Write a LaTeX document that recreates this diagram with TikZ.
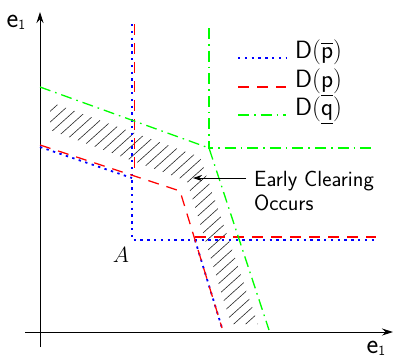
\documentclass[tikz,border=0pt]{standalone}
\usepackage{fix-cm}
\usepackage{amsmath}
\usepackage{fontspec}
\usepackage{tikz}
\usetikzlibrary{arrows.meta}
\tikzset{
  axis/.style={line width=0.9pt,-{Stealth[length=11pt,width=7pt]}},
  dpbar/.style={blue,line width=1.8pt,dash pattern=on 2.4pt off 4.4pt},
  dplow/.style={red,line width=1.25pt,dash pattern=on 11pt off 8pt},
  dqlow/.style={green,line width=1.3pt,dash pattern=on 11pt off 5pt on 1.6pt off 5pt},
  hatch/.style={black!85,line width=0.6pt},
  key/.style={font=\sffamily\fontsize{25}{27}\selectfont,inner sep=0pt},
  note/.style={font=\sffamily\fontsize{22}{24}\selectfont,inner sep=0pt,align=left},
  axlbl/.style={font=\sffamily,inner sep=0pt}}
\newcommand{\elab}{{\fontsize{28}{30}\selectfont e}\raisebox{-2pt}{\fontsize{14}{14}\selectfont 1}}
\newcommand{\dkey}[4]{%
  \coordinate (#1l) at (238,#3);
  \node[key,anchor=base west] (#1) at (295,#3) {#4};
  \draw[#2] (#1l) -- ([xshift=-9pt]#1.west |- #1l);}

\begin{document}
\begin{tikzpicture}[x=1pt,y=-1pt]
  \useasboundingbox (0,0) rectangle (396,360);
  \coordinate (yb) at (40,347); \coordinate (yt) at (40,12);
  \coordinate (xl) at (25,332); \coordinate (xr) at (393,332);
  \draw[axis] (yb) -- (yt);
  \draw[axis] (xl) -- (xr);
  \node[axlbl] (ey) at (16,22) {\elab};
  \node[axlbl] (ex) at (376,348) {\elab};
  % hatched strip
  \begin{scope}
    \clip (50,102) -- (200,157) -- (258,324) -- (231,324) -- (187,181) -- (50,130) -- cycle;
    \foreach \c in {-240,-228,...,270}
      \draw[hatch] (\c,340) -- ++(300,-270);
  \end{scope}
  % D(pbar)
  \coordinate (Pa) at (40,147); \coordinate (Pb) at (132,178);
  \coordinate (Pt) at (132,24); \coordinate (Pc) at (132,240); \coordinate (Pr) at (376,240);
  \coordinate (Pd) at (195,240); \coordinate (Pe) at (222,328);
  \draw[dpbar] (Pa) -- (Pb);
  \draw[dpbar] (Pt) -- (Pc) -- (Pr);
  \draw[dpbar] (Pd) -- (Pe);
  % D(p)
  \coordinate (pt) at (134.5,24); \coordinate (pc) at (134.5,176);
  \coordinate (pa) at (40,145); \coordinate (pk) at (180,191); \coordinate (pe) at (222,328);
  \coordinate (pd) at (195,237); \coordinate (pr) at (376,237);
  \draw[dplow] (pt) -- (pc);
  \draw[dplow] (pa) -- (pk) -- (pe);
  \draw[dplow] (pd) -- (pr);
  % D(q)
  \coordinate (qt) at (209,28); \coordinate (qk) at (209,148); \coordinate (qr) at (373,148);
  \coordinate (qa) at (40,87); \coordinate (qe) at (269,330);
  \draw[dqlow] (qt) -- (qk) -- (qr);
  \draw[dqlow] (qa) -- (qk) -- (qe);
  % legend
  \dkey{kP}{dpbar}{58}{$\mathsf{D}(\overline{\mathsf{p}})$}
  \dkey{kp}{dplow}{87}{$\mathsf{D}(\underline{\mathsf{p}})$}
  \dkey{kq}{dqlow}{115}{$\mathsf{D}(\underline{\mathsf{q}})$}
  \node[note,anchor=north west] (ec) at (254,171) {Early Clearing\\Occurs};
  \coordinate (eh) at (193,178);
  \draw[line width=0.8pt,-{Stealth[length=9pt,width=6pt]}] ([xshift=-8pt]ec.west |- eh) -- (eh);
  \node[font=\fontsize{22}{24}\selectfont,inner sep=0pt] (A) at (121,255) {$A$};
\end{tikzpicture}
\end{document}
